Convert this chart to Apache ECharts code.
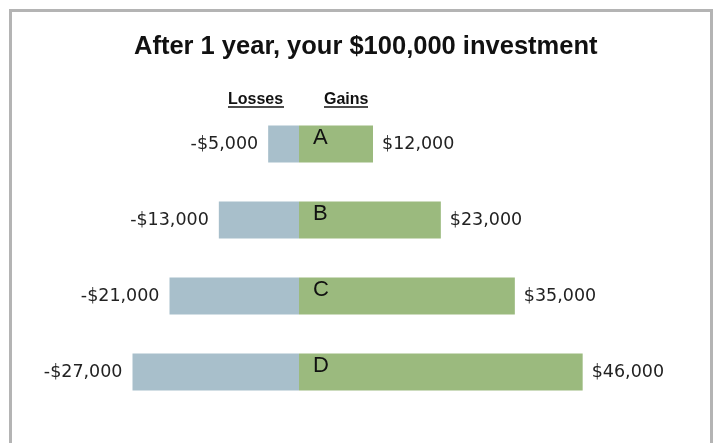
<!DOCTYPE html>
<html lang="en">
<head>
    <meta charset="UTF-8">
    <title>After 1 year</title>
    <style>
        html, body { margin: 0; padding: 0; background: #fff; }
        #main { width: 715px; height: 443px; }
    </style>
    <script src="https://cdn.jsdelivr.net/npm/echarts@6/dist/echarts.min.js"></script>
</head>
<body>
<div id="main"></div>
<script type="text/javascript">
    // data
    var categories = ['A', 'B', 'C', 'D'];
    var losses = [-5000, -13000, -21000, -27000];
    var gains = [12000, 23000, 35000, 46000];

    function money(v) {
        var s = Math.abs(v).toString().replace(/\B(?=(\d{3})+(?!\d))/g, ',');
        return (v < 0 ? '-$' : '$') + s;
    }

    var myChart = echarts.init(document.getElementById('main'));

    var option = {
        animation: false,
        title: {
            text: 'After 1 year, your $100,000 investment',
            left: 129,
            top: 29,
            textStyle: {
                fontFamily: 'Liberation Sans',
                fontSize: 25.5,
                fontWeight: 'bold',
                color: '#111'
            }
        },
        graphic: [
            // outer frame (bottom edge falls outside the picture)
            { type: 'rect', shape: { x: 10.5, y: 10.5, width: 701, height: 500 },
              style: { fill: 'none', stroke: '#b4b4b4', lineWidth: 3 } },
            // column headers
            { type: 'text', x: 228, y: 92,
              style: { text: 'Losses', font: 'bold 16px "Liberation Sans"', fill: '#111' } },
            { type: 'line', shape: { x1: 228, y1: 107, x2: 284, y2: 107 },
              style: { stroke: '#111', lineWidth: 1.3 } },
            { type: 'text', x: 324, y: 92,
              style: { text: 'Gains', font: 'bold 16px "Liberation Sans"', fill: '#111' } },
            { type: 'line', shape: { x1: 324, y1: 107, x2: 368, y2: 107 },
              style: { stroke: '#111', lineWidth: 1.3 } }
        ],
        grid: { left: 114, width: 555, top: 106, height: 304 },
        xAxis: {
            type: 'value',
            min: -30000,
            max: 60000,
            show: false
        },
        yAxis: {
            type: 'category',
            data: categories,
            inverse: true,
            axisLine: { show: false },
            axisTick: { show: false },
            splitLine: { show: false },
            // letters sit just right of the zero line, inside the green bar
            axisLabel: {
                margin: -199,
                align: 'left',
                fontFamily: 'Liberation Sans',
                fontSize: 22,
                color: '#111',
                verticalAlign: 'bottom',
                lineHeight: 13
            },
            z: 10
        },
        series: [
            {
                name: 'Losses',
                type: 'bar',
                data: losses,
                barWidth: 37,
                barGap: '-100%',
                itemStyle: { color: '#a8bfcb' },
                label: {
                    show: true,
                    position: 'left',
                    distance: 10,
                    fontFamily: 'DejaVu Sans',
                    fontSize: 17.5,
                    color: '#222',
                    formatter: function (p) { return money(p.value); }
                }
            },
            {
                name: 'Gains',
                type: 'bar',
                data: gains,
                barWidth: 37,
                barGap: '-100%',
                itemStyle: { color: '#9bba7e' },
                label: {
                    show: true,
                    position: 'right',
                    distance: 9,
                    fontFamily: 'DejaVu Sans',
                    fontSize: 17.5,
                    color: '#222',
                    formatter: function (p) { return money(p.value); }
                }
            }
        ]
    };
    myChart.setOption(option);
</script>
</body>
</html>
